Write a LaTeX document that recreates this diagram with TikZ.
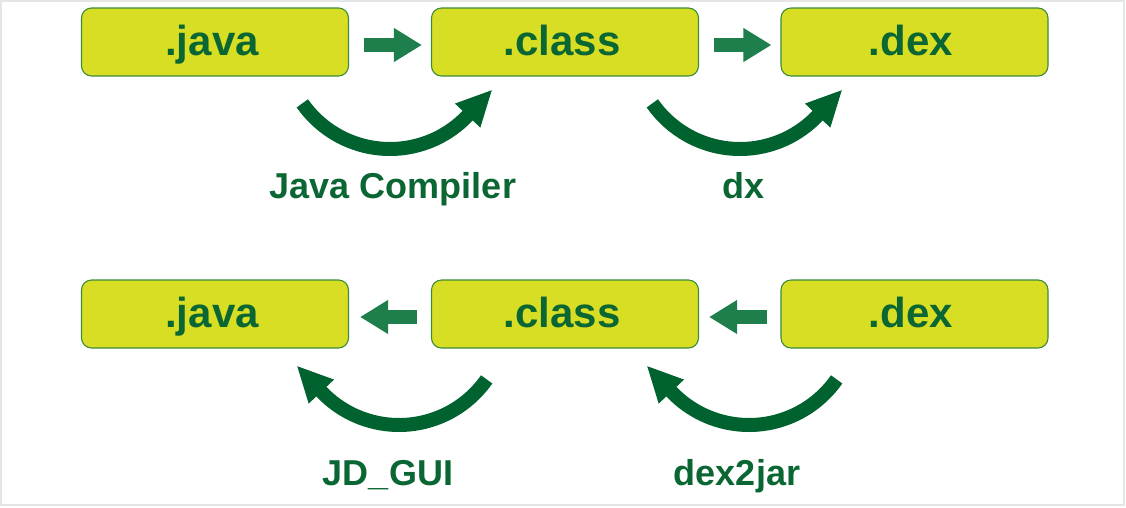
\documentclass[tikz,border=0pt]{standalone}
\usepackage{fontspec}
\setmainfont{Liberation Sans}
\usetikzlibrary{arrows.meta}
\definecolor{boxfill}{HTML}{D8DE24}
\definecolor{boxline}{HTML}{3C8C3A}
\definecolor{txtgreen}{HTML}{0A6633}
\definecolor{arcgreen}{HTML}{00622F}
\definecolor{smallgreen}{HTML}{1E7E4C}
\definecolor{framegray}{HTML}{E4E6E6}
\tikzset{
  filebox/.style={draw=boxline, line width=1.1pt, fill=boxfill, rounded corners=10pt,
    minimum width=267pt, minimum height=68pt, inner sep=0pt},
  filetext/.style={font=\bfseries\fontsize{42}{48}\selectfont, text=txtgreen, anchor=base, inner sep=0pt},
  labeltext/.style={font=\bfseries\fontsize{36}{42}\selectfont, text=txtgreen, anchor=base, inner sep=0pt},
  smallarrow/.style={draw=smallgreen, line width=14pt, -{Triangle[length=28pt,width=32pt]}},
  bigarrow/.style={draw=arcgreen, line width=14pt, -{Triangle[length=36pt,width=32pt]}}
}
\begin{document}
\begin{tikzpicture}[x=1pt,y=1pt]
\useasboundingbox (0,0) rectangle (1126,-507);
\draw[framegray, line width=2pt] (1,-1) rectangle (1124,-505);

% top row
\node[filebox] (j1) at (215,-42) {};
\node[filebox] (c1) at (565,-42) {};
\node[filebox] (d1) at (914.5,-42) {};
\node[filetext] (tj1) at (212,-55) {.java};
\node[filetext] (tc1) at (562,-55) {.class};
\node[filetext] (td1) at (911,-55) {.dex};

% bottom row
\node[filebox] (j2) at (215,-314) {};
\node[filebox] (c2) at (565,-314) {};
\node[filebox] (d2) at (914.5,-314) {};
\node[filetext] (tj2) at (212,-327) {.java};
\node[filetext] (tc2) at (562,-327) {.class};
\node[filetext] (td2) at (911,-327) {.dex};

% small arrows
\draw[smallarrow] ([xshift=15pt,yshift=-3pt]j1.east) -- ([xshift=-9pt,yshift=-3pt]c1.west);
\draw[smallarrow] ([xshift=15pt,yshift=-3pt]c1.east) -- ([xshift=-9pt,yshift=-3pt]d1.west);
\draw[smallarrow] ([xshift=-14pt,yshift=-3pt]c2.west) -- ([xshift=11pt,yshift=-3pt]j2.east);
\draw[smallarrow] ([xshift=-13pt,yshift=-3pt]d2.west) -- ([xshift=10pt,yshift=-3pt]c2.east);

% curved arrows
\coordinate (a1) at (390,-42);
\coordinate (a2) at (740,-42);
\coordinate (a3) at (399,-318);
\coordinate (a4) at (749,-318);
\draw[bigarrow] ([shift={(215:107)}]a1) arc[start angle=215, end angle=316, radius=107] -- ++(46.5:37);
\draw[bigarrow] ([shift={(215:107)}]a2) arc[start angle=215, end angle=316, radius=107] -- ++(46.5:37);
\draw[bigarrow] ([shift={(-35:107)}]a3) arc[start angle=-35, end angle=-136, radius=107] -- ++(133.5:37);
\draw[bigarrow] ([shift={(-35:107)}]a4) arc[start angle=-35, end angle=-136, radius=107] -- ++(133.5:37);

% labels
\node[labeltext] (l1) at (393,-198) {Java Compiler};
\node[labeltext] (l2) at (743,-198) {dx};
\node[labeltext] (l3) at (388,-485) {JD\_GUI};
\node[labeltext] (l4) at (737,-485) {dex2jar};
\end{tikzpicture}
\end{document}
